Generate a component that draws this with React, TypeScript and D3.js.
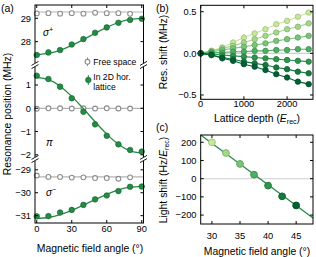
import React from 'react';
import * as d3 from 'd3';

const FONT = '"Liberation Sans", Arial, Helvetica, sans-serif';
const TICK_FS = 9.3;
const TITLE_FS = 10.4;

// (a) resonance positions vs magnetic field angle
const latticeAngles = [0, 10, 20, 30, 40, 50, 60, 70, 80, 90];
const freeAngles = [0, 10, 20, 30, 40, 50, 60, 70, 80];
const sigmaPlusFree = [29.21, 29.22, 29.2, 29.22, 29.2, 29.24, 29.22, 29.22, 29.19];
const sigmaPlusLattice = [27.43, 27.54, 27.64, 27.88, 28.11, 28.38, 28.61, 28.81, 28.93, 28.98];
const sigmaPlusFit = [27.45, 27.5, 27.63, 27.84, 28.09, 28.36, 28.61, 28.82, 28.95, 29.0];
const piFree = [-0.02, 0, 0, -0.01, 0, -0.01, 0, -0.01, -0.01];
const piLattice = [1.4, 1.26, 0.93, 0.43, -0.15, -0.69, -1.18, -1.55, -1.79, -1.86];
const piFit = [1.33, 1.23, 0.95, 0.51, -0.02, -0.58, -1.11, -1.55, -1.83, -1.93];
const sigmaMinusFree = [-29.25, -29.31, -29.31, -29.34, -29.33, -29.36, -29.36, -29.39, -29.33];
const sigmaMinusLattice = [-31.03, -31.02, -30.86, -30.75, -30.53, -30.29, -30.12, -29.93, -29.74, -29.73];
const sigmaMinusFit = [-31.12, -31.08, -30.96, -30.77, -30.54, -30.3, -30.07, -29.88, -29.76, -29.72];
const freeLevels = [29.27, 0, -29.31];
const angleTicks = [0, 30, 60, 90];

// (b) resonance shift vs lattice depth, one series per field angle
const depths = [0, 250, 500, 750, 1000, 1250, 1500, 1750, 2000, 2250, 2500];
const shift30 = [0, 0.03, 0.07, 0.13, 0.19, 0.24, 0.29, 0.35, 0.39, 0.44, 0.49];
const shift325 = [0, 0.03, 0.06, 0.09, 0.13, 0.17, 0.21, 0.25, 0.29, 0.32, 0.36];
const shift35 = [0, 0.02, 0.04, 0.06, 0.08, 0.1, 0.12, 0.15, 0.17, 0.19, 0.21];
const shift375 = [0, 0.01, 0.01, 0.02, 0.02, 0.03, 0.03, 0.04, 0.04, 0.05, 0.05];
const shift40 = [0, -0.01, -0.02, -0.03, -0.04, -0.05, -0.06, -0.07, -0.08, -0.09, -0.1];
const shift425 = [0, -0.02, -0.05, -0.07, -0.1, -0.12, -0.14, -0.17, -0.19, -0.22, -0.24];
const shift45 = [0, -0.02, -0.06, -0.09, -0.13, -0.16, -0.2, -0.25, -0.29, -0.34, -0.37];
const shiftSeries = [shift30, shift325, shift35, shift375, shift40, shift425, shift45];
const depthTicks = [0, 1000, 2000];
const shiftTicks = [-0.5, 0, 0.5];

// (c) light shift vs angle
const rotAngles = [30, 32.5, 35, 37.5, 40, 42.5, 45];
const lightShift = [200, 141, 81, 22, -38, -97, -147];
const fitAngles = [28, 48];
const fitShift = [240, -216];
const rotTicks = [30, 35, 40, 45];
const lightTicks = [-200, -100, 0, 100, 200];

const GREEN = '#238b45';
const GREEN_DARK = '#12602f';
const seriesColor = (i: number) => d3.interpolateYlGn(0.3 + (i * 0.6) / 6);

const TL = 3; // inward tick length

const fmt = (v: number) => (v < 0 ? '\u2212' + Math.abs(v) : String(v));

const App: React.FC = () => {
  // ---------- panel (a) ----------
  const ax0 = 35, ax1 = 143.5, ayTop = 5, ayBot = 223;
  const xA = d3.scaleLinear().domain([-1.5, 91.5]).range([ax0, ax1]);
  const sections = [
    { y: d3.scaleLinear().domain([27.0, 29.57]).range([65, ayTop]), ticks: [28, 29],
      free: sigmaPlusFree, lattice: sigmaPlusLattice, fit: sigmaPlusFit, level: freeLevels[0] },
    { y: d3.scaleLinear().domain([-2.18, 1.86]).range([159, 65]), ticks: [-2, -1, 0, 1],
      free: piFree, lattice: piLattice, fit: piFit, level: freeLevels[1] },
    { y: d3.scaleLinear().domain([-31.32, -28.53]).range([ayBot, 159]), ticks: [-31, -30, -29],
      free: sigmaMinusFree, lattice: sigmaMinusLattice, fit: sigmaMinusFit, level: freeLevels[2] },
  ];
  const breaks = [65, 159];

  // ---------- panel (b) ----------
  const bx0 = 200.7, bx1 = 313, byTop = 5.3, byBot = 99.3;
  const xB = d3.scaleLinear().domain([0, 2600]).range([bx0, bx1]);
  const yB = d3.scaleLinear().domain([-0.552, 0.577]).range([byBot, byTop]);
  const lineB = d3.line<number>().x((_, i) => xB(depths[i])).y(d => yB(d));

  // ---------- panel (c) ----------
  const cx0 = 200.7, cx1 = 313, cyTop = 135, cyBot = 224;
  const xC = d3.scaleLinear().domain([28, 48]).range([cx0, cx1]);
  const yC = d3.scaleLinear().domain([-249, 240]).range([cyBot, cyTop]);

  const xTicks = (sc: d3.ScaleLinear<number, number>, vals: number[], y0: number, y1: number, labelY: number, key: string) =>
    vals.map(v => (
      <g key={key + v}>
        <line x1={sc(v)} x2={sc(v)} y1={y1} y2={y1 - TL} stroke="#000" />
        <line x1={sc(v)} x2={sc(v)} y1={y0} y2={y0 + TL} stroke="#000" />
        <text x={sc(v)} y={labelY} textAnchor="middle" fontSize={TICK_FS}>{fmt(v)}</text>
      </g>
    ));

  const yTicks = (sc: d3.ScaleLinear<number, number>, vals: number[], x0: number, x1: number, labelX: number, key: string, f = fmt) =>
    vals.map(v => (
      <g key={key + v}>
        <line x1={x0} x2={x0 + TL} y1={sc(v)} y2={sc(v)} stroke="#000" />
        <line x1={x1} x2={x1 - TL} y1={sc(v)} y2={sc(v)} stroke="#000" />
        <text x={labelX} y={sc(v) + 3.3} textAnchor="end" fontSize={TICK_FS}>{f(v)}</text>
      </g>
    ));

  const breakMark = (x: number, y: number, key: string) => (
    <g key={key}>
      <rect x={x - 3} y={y - 2} width={6} height={4} fill="#fff" />
      <line x1={x - 3.5} x2={x + 3.5} y1={y + 0.4} y2={y - 3.6} stroke="#000" strokeWidth={0.9} />
      <line x1={x - 3.5} x2={x + 3.5} y1={y + 3.6} y2={y - 0.4} stroke="#000" strokeWidth={0.9} />
    </g>
  );

  return (
    <svg width={316} height={257} style={{ position: 'absolute', left: 0, top: 0 }} fontFamily={FONT}>
      <rect width={316} height={257} fill="#fff" />

      {/* ================= (a) ================= */}
      <text x={1} y={12} fontSize={10.5}>(a)</text>
      {sections.map((s, si) => {
        const fitLine = d3.line<number>().x((_, i) => xA(latticeAngles[i])).y(d => s.y(d)).curve(d3.curveNatural);
        return (
          <g key={'sec' + si}>
            <line x1={ax0} x2={ax1} y1={s.y(s.level)} y2={s.y(s.level)} stroke="#b4b4b4" strokeWidth={1.2} />
            {s.free.map((v, i) => (
              <circle key={'f' + i} cx={xA(freeAngles[i])} cy={s.y(v)} r={2.4} fill="#fff" stroke="#8c8c8c" strokeWidth={1.1} />
            ))}
            <path d={fitLine(s.fit) || ''} fill="none" stroke={GREEN} strokeWidth={1.3} />
            {s.lattice.map((v, i) => (
              <circle key={'l' + i} cx={xA(latticeAngles[i])} cy={s.y(v)} r={2.8} fill={GREEN} stroke={GREEN_DARK} strokeWidth={0.6} />
            ))}
            {yTicks(s.y, s.ticks, ax0, ax1, 31, 'ya' + si)}
          </g>
        );
      })}
      <rect x={ax0} y={ayTop} width={ax1 - ax0} height={ayBot - ayTop} fill="none" stroke="#000" strokeWidth={1} />
      {breaks.map(b => breakMark(ax0, b, 'bl' + b))}
      {breaks.map(b => breakMark(ax1, b, 'br' + b))}
      {xTicks(xA, angleTicks, ayTop, ayBot, 232, 'xa')}
      <text x={90} y={252} textAnchor="middle" fontSize={TITLE_FS}>Magnetic field angle (°)</text>
      <text transform={`translate(11,114) rotate(-90)`} textAnchor="middle" fontSize={TITLE_FS}>Resonance position (MHz)</text>

      {/* σ / π labels */}
      <text x={43} y={36} fontSize={10} fontStyle="italic">σ<tspan fontSize={7} dy={-4}>+</tspan></text>
      <text x={46} y={146} fontSize={10} fontStyle="italic">π</text>
      <text x={46} y={196} fontSize={10} fontStyle="italic">σ<tspan fontSize={7} dy={-4}>−</tspan></text>

      {/* legend */}
      <line x1={87.5} x2={87.5} y1={57.5} y2={66} stroke="#8c8c8c" strokeWidth={1} />
      <circle cx={87.5} cy={61.8} r={2.4} fill="#fff" stroke="#8c8c8c" strokeWidth={1.1} />
      <text x={93.3} y={64.8} fontSize={8.6}>Free space</text>
      <line x1={88.3} x2={88.3} y1={75} y2={85} stroke={GREEN} strokeWidth={1} />
      <circle cx={88.3} cy={80} r={2.8} fill={GREEN} stroke={GREEN_DARK} strokeWidth={0.6} />
      <text x={93.3} y={80.4} fontSize={8.6}>In 2D hor.</text>
      <text x={93.3} y={89.8} fontSize={8.6}>lattice</text>

      {/* ================= (b) ================= */}
      <text x={156} y={12} fontSize={10.5}>(b)</text>
      <line x1={bx0} x2={bx1} y1={yB(0)} y2={yB(0)} stroke="#cfcfcf" strokeWidth={1.1} />
      {shiftSeries.map((s, si) => {
        const c = seriesColor(si);
        return (
          <g key={'bs' + si}>
            <path d={lineB(s) || ''} fill="none" stroke={c} strokeWidth={1.1} />
            {s.map((v, i) => (
              <circle key={i} cx={xB(depths[i])} cy={yB(v)} r={2.7} fill={c}
                stroke={d3.color(c)!.darker(0.5).formatHex()} strokeWidth={0.9} />
            ))}
          </g>
        );
      })}
      <rect x={bx0} y={byTop} width={bx1 - bx0} height={byBot - byTop} fill="none" stroke="#000" strokeWidth={1} />
      {xTicks(xB, depthTicks, byTop, byBot, 107, 'xb')}
      {yTicks(yB, shiftTicks, bx0, bx1, 196.5, 'yb', (v: number) => (v < 0 ? '\u2212' : '') + Math.abs(v).toFixed(1))}
      <text x={257} y={122} textAnchor="middle" fontSize={TITLE_FS}>
        Lattice depth (<tspan fontStyle="italic">E</tspan><tspan fontSize={7} dy={2}>rec</tspan><tspan dy={-2}>)</tspan>
      </text>
      <text transform={`translate(167,52) rotate(-90)`} textAnchor="middle" fontSize={TITLE_FS}>Res. shift (MHz)</text>

      {/* ================= (c) ================= */}
      <text x={156} y={131} fontSize={10.5}>(c)</text>
      <line x1={cx0} x2={cx1} y1={yC(0)} y2={yC(0)} stroke="#cfcfcf" strokeWidth={1.1} />
      <line x1={xC(fitAngles[0])} x2={xC(fitAngles[1])} y1={yC(fitShift[0])} y2={yC(fitShift[1])} stroke={GREEN} strokeWidth={1.3} />
      {lightShift.map((v, i) => {
        const c = seriesColor(i);
        return (
          <circle key={'c' + i} cx={xC(rotAngles[i])} cy={yC(v)} r={3.4} fill={c}
            stroke={d3.color(c)!.darker(0.5).formatHex()} strokeWidth={1} />
        );
      })}
      <rect x={cx0} y={cyTop} width={cx1 - cx0} height={cyBot - cyTop} fill="none" stroke="#000" strokeWidth={1} />
      {xTicks(xC, rotTicks, cyTop, cyBot, 238.5, 'xc')}
      {yTicks(yC, lightTicks, cx0, cx1, 196.5, 'yc')}
      <text x={257} y={255} textAnchor="middle" fontSize={TITLE_FS}>Magnetic field angle (°)</text>
      <text transform={`translate(167,180) rotate(-90)`} textAnchor="middle" fontSize={TITLE_FS}>
        Light shift (Hz/<tspan fontStyle="italic">E</tspan><tspan fontSize={7} dy={2}>rec</tspan><tspan dy={-2}>)</tspan>
      </text>
    </svg>
  );
};

export default App;
